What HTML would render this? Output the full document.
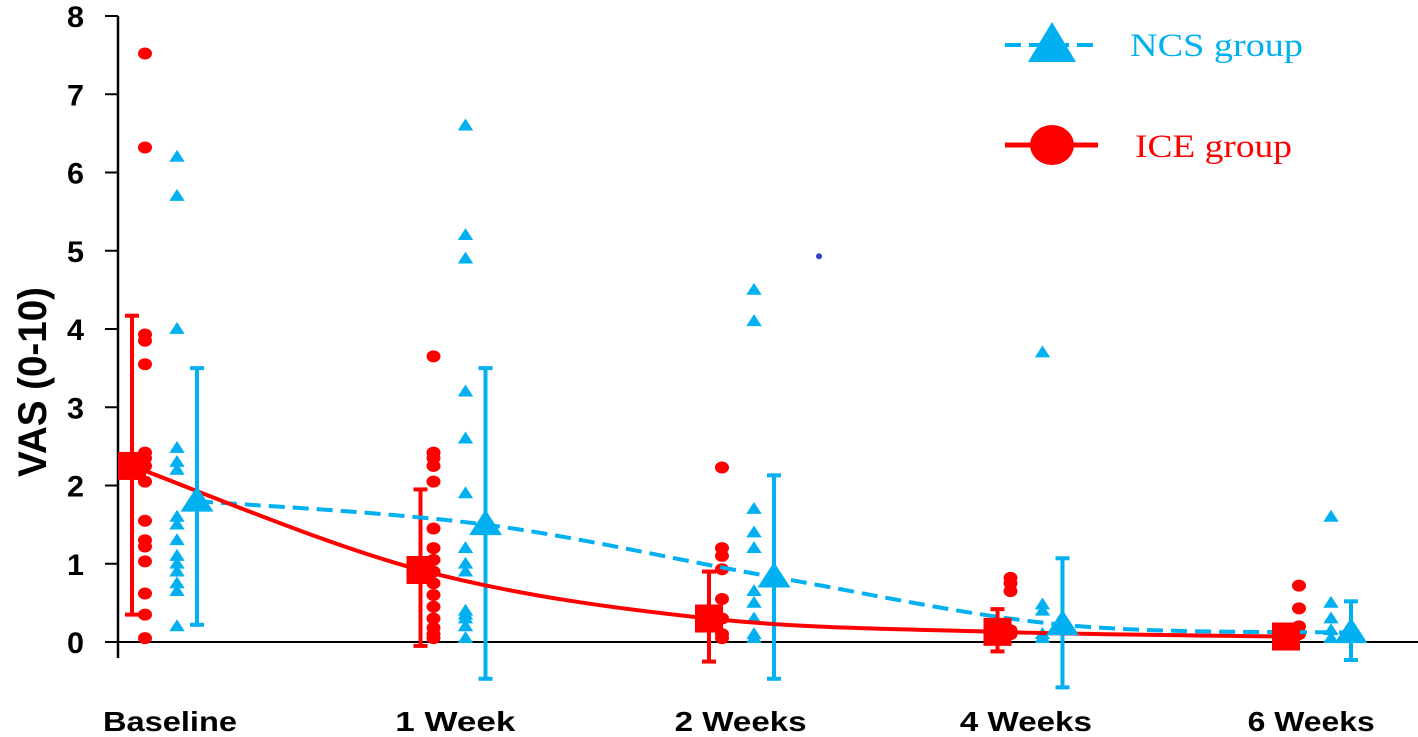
<!DOCTYPE html>
<html><head><meta charset="utf-8"><style>
html,body{margin:0;padding:0;background:#fff;}
svg{display:block;}
</style></head><body>
<svg id="chart" width="1418" height="737" xmlns="http://www.w3.org/2000/svg"></svg>
<script>
const categories=["Baseline","1 Week","2 Weeks","4 Weeks","6 Weeks"];
const yTicks=[0,1,2,3,4,5,6,7,8];
const iceMean=[2.25,0.92,0.3,0.13,0.07];
const iceLow=[0.35,-0.05,-0.25,-0.12,-0.05];
const iceHigh=[4.17,1.95,0.9,0.42,0.18];
const ncsMean=[1.8,1.5,0.83,0.22,0.12];
const ncsLow=[0.22,-0.47,-0.47,-0.58,-0.23];
const ncsHigh=[3.5,3.5,2.13,1.07,0.52];
const icePoints=[
[7.52,6.32,3.93,3.85,3.55,2.42,2.35,2.25,2.05,1.55,1.3,1.22,1.03,0.62,0.35,0.05],
[3.65,2.42,2.35,2.25,2.05,1.45,1.2,1.05,0.9,0.75,0.6,0.45,0.3,0.18,0.1,0.05],
[2.23,1.2,1.1,0.93,0.55,0.3,0.1,0.05],
[0.82,0.75,0.65,0.15,0.1],
[0.72,0.43,0.2,0.1]];
const ncsPoints=[
[6.2,5.7,4.0,2.48,2.3,2.2,1.6,1.5,1.3,1.1,1.0,0.9,0.75,0.65,0.2],
[6.6,5.2,4.9,3.2,2.6,1.9,1.2,1.0,0.9,0.4,0.35,0.3,0.2,0.05],
[4.5,4.1,1.7,1.4,1.2,0.65,0.5,0.3,0.1,0.05],
[3.7,0.48,0.4,0.1,0.05],
[1.6,0.5,0.3,0.15,0.05]];
const strayValue=4.93;

const NS="http://www.w3.org/2000/svg";
const svg=document.getElementById('chart');
const RED="#ff0000",BLUE="#00b0f0";
function y(v){return 642-v*78.25;}
function xc(i){return 165+i*288.5;}
function xl(i){return 170+i*285.3;}
function el(t,a,p){const e=document.createElementNS(NS,t);for(const k in a)e.setAttribute(k,a[k]);(p||svg).appendChild(e);return e;}
function tri(cx,cy,s,fill){return el('polygon',{points:`${cx},${cy-s} ${cx-s*1.1},${cy+s*0.7} ${cx+s*1.1},${cy+s*0.7}`,fill:fill});}
function smooth(pts){let d=`M${pts[0][0]},${pts[0][1]}`;for(let i=0;i<pts.length-1;i++){const p0=pts[Math.max(0,i-1)],p1=pts[i],p2=pts[i+1],p3=pts[Math.min(pts.length-1,i+2)];const c1=[p1[0]+(p2[0]-p0[0])/6,p1[1]+(p2[1]-p0[1])/6],c2=[p2[0]-(p3[0]-p1[0])/6,p2[1]-(p3[1]-p1[1])/6];d+=` C${c1[0]},${c1[1]} ${c2[0]},${c2[1]} ${p2[0]},${p2[1]}`;}return d;}

let a=el('line',{x1:118,y1:16,x2:118,y2:658,stroke:'#000','stroke-width':2.5});

a=el('line',{x1:106,y1:642,x2:1418,y2:642,stroke:'#000','stroke-width':2});

yTicks.forEach(v=>{
 const t=el('line',{x1:105,y1:y(v),x2:118,y2:y(v),stroke:'#000','stroke-width':2});
 
 const l=el('text',{x:67,y:y(v)+11,'font-family':'Liberation Sans, sans-serif','font-weight':'bold','font-size':30,textLength:17,lengthAdjust:'spacingAndGlyphs'});
 l.textContent=v;
});
const labelW=[134,120,132,132,127];
categories.forEach((c,i)=>{
 const l=el('text',{x:xl(i)-labelW[i]/2,y:731,'font-family':'Liberation Sans, sans-serif','font-weight':'bold','font-size':28,textLength:labelW[i],lengthAdjust:'spacingAndGlyphs'});
 l.textContent=c;
});
const yt=el('text',{x:-477,y:46,transform:'rotate(-90)','font-family':'Liberation Sans, sans-serif','font-weight':'bold','font-size':40,textLength:190,lengthAdjust:'spacingAndGlyphs'});
yt.textContent='VAS (0-10)';

icePoints.forEach((arr,i)=>arr.forEach(v=>{const c=el('ellipse',{cx:xc(i)-20,cy:y(v),rx:7,ry:6,fill:RED});}));
ncsPoints.forEach((arr,i)=>arr.forEach(v=>{const t=tri(xc(i)+12,y(v),7,BLUE);}));
const sd=el('circle',{cx:819,cy:y(strayValue),r:3,fill:'#3b3bd0'});

function ebar(x,lo,hi,col,name){const g=el('g',{stroke:col,'stroke-width':4});
 el('line',{x1:x,y1:y(lo),x2:x,y2:y(hi)},g);el('line',{x1:x-7,y1:y(lo),x2:x+7,y2:y(lo)},g);el('line',{x1:x-7,y1:y(hi),x2:x+7,y2:y(hi)},g);}
categories.forEach((c,i)=>{ebar(xc(i)-33,iceLow[i],iceHigh[i],RED,'ice-error-bar');ebar(xc(i)+32,ncsLow[i],ncsHigh[i],BLUE,'ncs-error-bar');});

const ncsLine=el('path',{d:smooth(ncsMean.map((v,i)=>[xc(i)+32,y(v)])),fill:'none',stroke:BLUE,'stroke-width':4,'stroke-dasharray':'16,8'});

const iceLine=el('path',{d:smooth(iceMean.map((v,i)=>[xc(i)-33,y(v)])),fill:'none',stroke:RED,'stroke-width':4});


iceMean.forEach((v,i)=>{const r=el('rect',{x:xc(i)-33-14,y:y(v)-14,width:28,height:28,fill:RED});});
ncsMean.forEach((v,i)=>{const t=tri(xc(i)+32,y(v),15,BLUE);});

const lg=el('g',{});
el('line',{x1:1005,y1:45,x2:1098,y2:45,stroke:BLUE,'stroke-width':4,'stroke-dasharray':'16,8'},lg);
el('polygon',{points:'1052,22 1028,62 1076,62',fill:BLUE},lg);
let lt=el('text',{x:1130,y:56,'font-family':'Liberation Serif, serif','font-size':33,fill:BLUE,textLength:173,lengthAdjust:'spacingAndGlyphs'},lg);lt.textContent='NCS group';

el('line',{x1:1005,y1:145,x2:1098,y2:145,stroke:RED,'stroke-width':5},lg);
el('ellipse',{cx:1052,cy:145,rx:22,ry:20,fill:RED},lg);
lt=el('text',{x:1135,y:157,'font-family':'Liberation Serif, serif','font-size':33,fill:RED,textLength:157,lengthAdjust:'spacingAndGlyphs'},lg);lt.textContent='ICE group';

</script>
</body></html>
